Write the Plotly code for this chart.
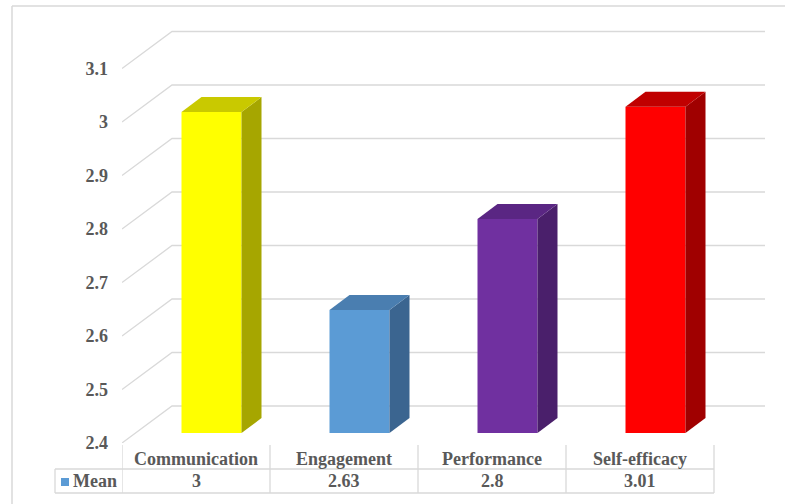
import plotly.graph_objects as go

# ---- data ----
categories = ["Communication", "Engagement", "Performance", "Self-efficacy"]
means = [3.0, 2.63, 2.8, 3.01]
value_labels = ["3", "2.63", "2.8", "3.01"]
series_name = "Mean"
y_ticks = [2.4, 2.5, 2.6, 2.7, 2.8, 2.9, 3.0, 3.1]
y_tick_labels = ["2.4", "2.5", "2.6", "2.7", "2.8", "2.9", "3", "3.1"]
front_colors = ["#FFFF00", "#5B9BD5", "#7030A0", "#FF0000"]
top_colors = ["#C9C900", "#4A7EB0", "#5A2683", "#C00000"]
side_colors = ["#A6A600", "#3B6590", "#4A1F6B", "#A00000"]

# ---- geometry (pixels) ----
W, H = 785, 504
L, R, T, B = 122, 770, 20, 443
CELL = 148.0          # px per category
YPX = 535.0           # px per 1.0 value unit
X0 = -0.5
XR = X0 + (R - L) / CELL
Y0 = y_ticks[0]
YR = Y0 + (B - T) / YPX

def px_x(px):
    return (px - L) / (R - L)

def px_y(py):
    return (B - py) / (B - T)

BACK_DX = 50 / CELL
BACK_DY = 37 / YPX
BACK_RIGHT = (765 - L) / CELL + X0
BAR_DX = 15.5 / CELL
BAR_DY = 10 / YPX
BAR_W = 60 / CELL
SIDE_DX = 20 / CELL
SIDE_DY = 15 / YPX
GRID = "#D9D9D9"
TXT = "#595959"
FONT = "Liberation Serif"
FS = 18

fig = go.Figure()
shapes = []

# perspective gridlines (front diagonal + back horizontal), below the bars
for v in y_ticks:
    shapes.append(dict(type="path", xref="x", yref="y", layer="below",
                       path=f"M {X0},{v} L {X0 + BACK_DX},{v + BACK_DY} L {BACK_RIGHT},{v + BACK_DY}",
                       line=dict(color=GRID, width=1.3)))

# bars
base = Y0 + BAR_DY
for i, (c, v) in enumerate(zip(categories, means)):
    xc = i + BAR_DX
    fig.add_trace(go.Bar(x=[xc], y=[v - Y0], base=[base], width=[BAR_W],
                         marker=dict(color=front_colors[i], line=dict(width=0)),
                         name=c, showlegend=False, hoverinfo="skip"))
    x0 = xc - BAR_W / 2
    x1 = xc + BAR_W / 2
    yt = v + BAR_DY
    # side face
    fig.add_trace(go.Scatter(
        x=[x1, x1 + SIDE_DX, x1 + SIDE_DX, x1, x1],
        y=[base, base + SIDE_DY, yt + SIDE_DY, yt, base],
        mode="lines", fill="toself", fillcolor=side_colors[i],
        line=dict(width=0, color=side_colors[i]),
        hoverinfo="skip", showlegend=False))
    # top face
    fig.add_trace(go.Scatter(
        x=[x0, x0 + SIDE_DX, x1 + SIDE_DX, x1, x0],
        y=[yt, yt + SIDE_DY, yt + SIDE_DY, yt, yt],
        mode="lines", fill="toself", fillcolor=top_colors[i],
        line=dict(width=0, color=top_colors[i]),
        hoverinfo="skip", showlegend=False))

# outer chart border (left + top)
shapes.append(dict(type="line", xref="paper", yref="paper",
                   x0=px_x(12), x1=px_x(12), y0=px_y(6), y1=px_y(520),
                   line=dict(color=GRID, width=1.5)))
shapes.append(dict(type="line", xref="paper", yref="paper",
                   x0=px_x(12), x1=px_x(800), y0=px_y(6), y1=px_y(6),
                   line=dict(color=GRID, width=1.5)))
# data table
n = len(categories)
for k in range(n + 1):
    shapes.append(dict(type="line", xref="x", yref="paper",
                       x0=X0 + k, x1=X0 + k, y0=px_y(445), y1=px_y(493),
                       line=dict(color=GRID, width=1.3)))
for yy in (469, 493):
    shapes.append(dict(type="line", xref="paper", yref="paper",
                       x0=px_x(55), x1=px_x(L + CELL * n), y0=px_y(yy), y1=px_y(yy),
                       line=dict(color=GRID, width=1.3)))
shapes.append(dict(type="line", xref="paper", yref="paper",
                   x0=px_x(55), x1=px_x(55), y0=px_y(469), y1=px_y(493),
                   line=dict(color=GRID, width=1.3)))
# legend key
shapes.append(dict(type="rect", xref="paper", yref="paper",
                   x0=px_x(61), x1=px_x(69), y0=px_y(486), y1=px_y(478),
                   fillcolor="#5B9BD5", line=dict(width=0)))

annotations = []
for i, c in enumerate(categories):
    annotations.append(dict(x=i, y=px_y(459), xref="x", yref="paper", text=f"<b>{c}</b>",
                            showarrow=False, yanchor="middle", xanchor="center",
                            font=dict(family=FONT, size=FS, color=TXT)))
    annotations.append(dict(x=i, y=px_y(481), xref="x", yref="paper", text=f"<b>{value_labels[i]}</b>",
                            showarrow=False, yanchor="middle", xanchor="center",
                            font=dict(family=FONT, size=FS, color=TXT)))
annotations.append(dict(x=px_x(71), y=px_y(481), xref="paper", yref="paper", text=f"<b>{series_name}</b>",
                        showarrow=False, yanchor="middle", xanchor="left",
                        font=dict(family=FONT, size=FS, color=TXT)))

fig.update_layout(
    width=W, height=H,
    margin=dict(l=L, r=W - R, t=T, b=H - B),
    paper_bgcolor="white", plot_bgcolor="white",
    barmode="overlay",
    showlegend=False,
    shapes=shapes,
    annotations=annotations,
    xaxis=dict(range=[X0, XR], showgrid=False, zeroline=False, showline=False,
               showticklabels=False, ticks=""),
    yaxis=dict(range=[Y0, YR], showgrid=False, zeroline=False, showline=False,
               tickvals=y_ticks, ticktext=[f"<b>{t}</b>" for t in y_tick_labels], ticks="",
               ticklabelstandoff=13,
               tickfont=dict(family=FONT, size=FS, color=TXT)),
)

fig.write_html("out.html")
